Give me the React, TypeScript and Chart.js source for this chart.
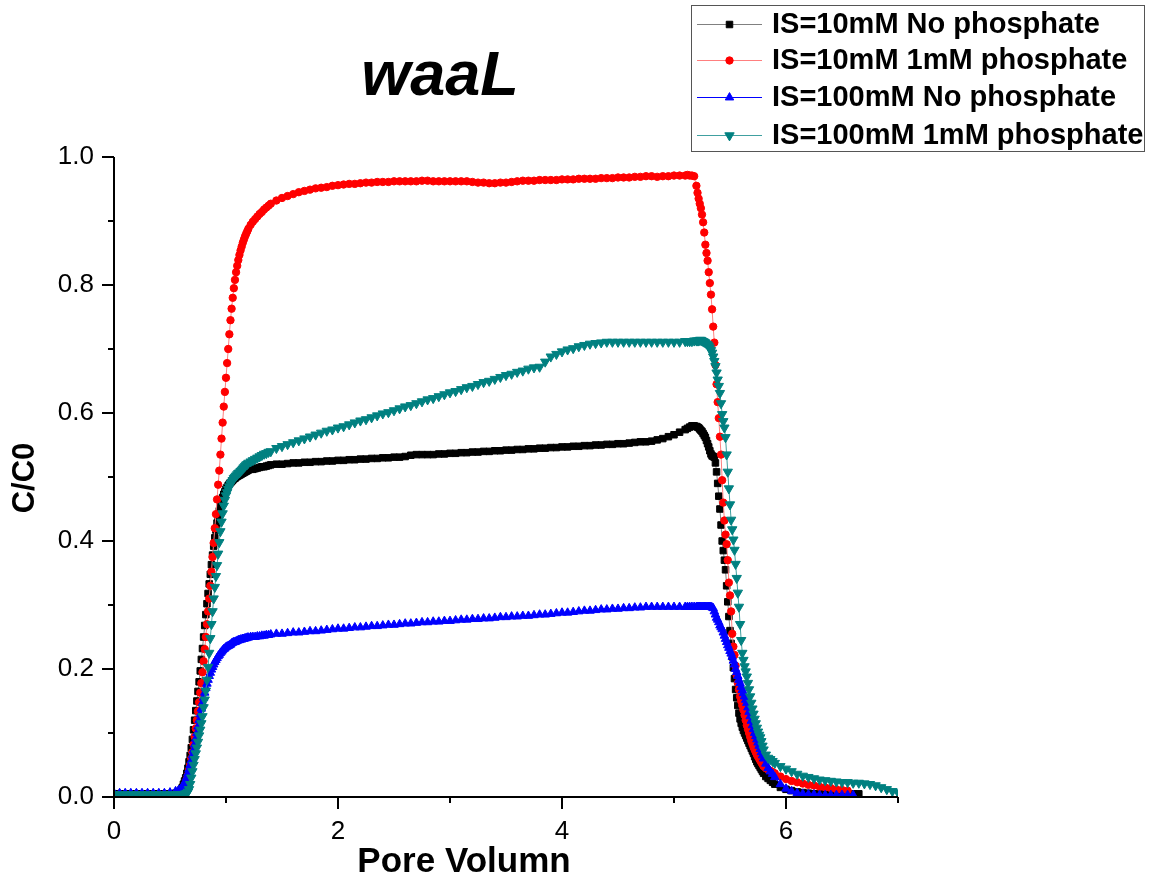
import React, { useEffect, useRef } from "react";
import { Chart, registerables } from "chart.js";

Chart.register(...registerables);

// ---------------- data ----------------
const poreVolume: number[] = [
  0, 0.05, 0.1, 0.15, 0.2, 0.25, 0.3, 0.35, 0.4, 0.45, 0.5, 0.55,
  0.58, 0.6, 0.61, 0.62, 0.63, 0.64, 0.65, 0.66, 0.67, 0.68, 0.69,
  0.7, 0.71, 0.72, 0.73, 0.74, 0.75, 0.76, 0.77, 0.78, 0.79,
  0.8, 0.81, 0.82, 0.83, 0.84, 0.85, 0.86, 0.87, 0.88, 0.89,
  0.9, 0.91, 0.92, 0.93, 0.94, 0.95, 0.96, 0.97, 0.98, 0.99,
  1, 1.01, 1.02, 1.03, 1.04, 1.05, 1.06, 1.07, 1.08, 1.09,
  1.1, 1.11, 1.12, 1.13, 1.14, 1.15, 1.16, 1.17, 1.18, 1.19, 1.2,
  1.22, 1.24, 1.26, 1.28, 1.3, 1.32, 1.34, 1.36, 1.38, 1.4,
  1.45, 1.5, 1.55, 1.6, 1.65, 1.7, 1.75, 1.8, 1.85, 1.9,
  1.95, 2, 2.05, 2.1, 2.15, 2.2, 2.25, 2.3, 2.35, 2.4,
  2.45, 2.5, 2.55, 2.6, 2.65, 2.7, 2.75, 2.8, 2.85, 2.9,
  2.95, 3, 3.05, 3.1, 3.15, 3.2, 3.25, 3.3, 3.35, 3.4,
  3.45, 3.5, 3.55, 3.6, 3.65, 3.7, 3.75, 3.8, 3.85, 3.9,
  3.95, 4, 4.05, 4.1, 4.15, 4.2, 4.25, 4.3, 4.35, 4.4,
  4.45, 4.5, 4.55, 4.6, 4.65, 4.7, 4.75, 4.8, 4.85, 4.9,
  4.95, 5, 5.05, 5.1,
  5.12, 5.14, 5.16, 5.18,
  5.2, 5.21, 5.22, 5.23, 5.24, 5.25, 5.26, 5.27, 5.28, 5.29,
  5.3, 5.31, 5.32, 5.33, 5.34, 5.35, 5.36, 5.37, 5.38, 5.39,
  5.4, 5.41, 5.42, 5.43, 5.44, 5.45, 5.46, 5.47, 5.48, 5.49,
  5.5, 5.51, 5.52, 5.53, 5.54, 5.55, 5.56, 5.57, 5.58, 5.59,
  5.6, 5.61, 5.62, 5.63, 5.64, 5.65, 5.66, 5.67, 5.68, 5.69,
  5.7, 5.71, 5.72, 5.73, 5.74, 5.75, 5.76, 5.77, 5.78, 5.79, 5.8,
  5.82, 5.84, 5.86, 5.88, 5.9,
  5.95, 6, 6.05, 6.1, 6.15, 6.2, 6.25, 6.3, 6.35, 6.4, 6.45, 6.5, 6.55,
  6.6, 6.65, 6.7, 6.75, 6.8, 6.85, 6.9, 6.95, 7,
];

// IS=10mM No phosphate
const is10mMNoPhosphate: (number | null)[] = [
  0.005, 0.005, 0.005, 0.005, 0.005, 0.005, 0.005, 0.005, 0.005, 0.005, 0.005, 0.006,
  0.008, 0.012, 0.015, 0.02, 0.025, 0.03, 0.037, 0.045, 0.055, 0.065, 0.077,
  0.09, 0.105, 0.12, 0.135, 0.15, 0.165, 0.18, 0.197, 0.215, 0.232,
  0.25, 0.268, 0.285, 0.302, 0.318, 0.333, 0.348, 0.363, 0.378, 0.392,
  0.405, 0.417, 0.428, 0.438, 0.447, 0.455, 0.462, 0.468, 0.473, 0.477,
  0.481, 0.484, 0.487, 0.489, 0.491, 0.493, 0.495, 0.497, 0.498, 0.5,
  0.501, 0.502, 0.503, 0.504, 0.505, 0.506, 0.507, 0.508, 0.509, 0.51, 0.511,
  0.512, 0.512, 0.513, 0.514, 0.515, 0.516, 0.516, 0.517, 0.518, 0.519,
  0.52, 0.52, 0.521, 0.522, 0.522, 0.523, 0.523, 0.524, 0.524, 0.525,
  0.525, 0.526, 0.526, 0.527, 0.527, 0.528, 0.528, 0.529, 0.529, 0.53,
  0.53, 0.531, 0.531, 0.532, 0.534, 0.535, 0.535, 0.535, 0.535, 0.536,
  0.536, 0.537, 0.537, 0.538, 0.538, 0.539, 0.539, 0.54, 0.54, 0.541,
  0.541, 0.542, 0.542, 0.543, 0.543, 0.544, 0.544, 0.545, 0.545, 0.546,
  0.546, 0.547, 0.547, 0.548, 0.548, 0.549, 0.549, 0.55, 0.55, 0.551,
  0.551, 0.552, 0.552, 0.553, 0.554, 0.555, 0.555, 0.556, 0.558, 0.56,
  0.563, 0.566, 0.57, 0.574,
  0.576, 0.578, 0.58, 0.58,
  0.579, 0.578, 0.577, 0.575, 0.573, 0.571, 0.568, 0.565, 0.562, 0.557,
  0.552, 0.547, 0.541, 0.536, 0.533, 0.532, 0.531, 0.522, 0.508, 0.49,
  0.47, 0.45, 0.425, 0.4, 0.385, 0.37, 0.355, 0.33, 0.305, 0.282,
  0.26, 0.24, 0.219, 0.202, 0.185, 0.168, 0.155, 0.143, 0.131, 0.122,
  0.115, 0.109, 0.104, 0.1, 0.096, 0.092, 0.088, 0.084, 0.08, 0.076,
  0.072, 0.068, 0.063, 0.059, 0.055, 0.052, 0.049, 0.046, 0.043, 0.04, 0.037,
  0.032, 0.029, 0.026, 0.023, 0.02,
  0.015, 0.012, 0.01, 0.008, 0.007, 0.006, 0.005, 0.005, 0.005, 0.005, 0.005, 0.005, 0.005,
  0.005, 0.005, null, null, null, null, null, null, null,
];

// IS=10mM 1mM phosphate
const is10mM1mMPhosphate: (number | null)[] = [
  0.004, 0.004, 0.004, 0.004, 0.004, 0.004, 0.004, 0.004, 0.004, 0.004, 0.004, 0.005,
  0.006, 0.009, 0.011, 0.014, 0.018, 0.022, 0.028, 0.034, 0.042, 0.05, 0.06,
  0.07, 0.082, 0.094, 0.107, 0.12, 0.134, 0.148, 0.163, 0.178, 0.195,
  0.212, 0.231, 0.25, 0.27, 0.29, 0.31, 0.33, 0.352, 0.375, 0.397,
  0.42, 0.442, 0.465, 0.488, 0.51, 0.535, 0.56, 0.585, 0.61, 0.633,
  0.655, 0.678, 0.7, 0.723, 0.745, 0.763, 0.78, 0.795, 0.808, 0.82,
  0.83, 0.839, 0.847, 0.854, 0.86, 0.866, 0.871, 0.876, 0.88, 0.884, 0.888,
  0.894, 0.899, 0.903, 0.907, 0.911, 0.914, 0.918, 0.921, 0.924, 0.927,
  0.932, 0.936, 0.939, 0.942, 0.945, 0.947, 0.949, 0.951, 0.952, 0.953,
  0.955, 0.956, 0.957, 0.958, 0.958, 0.959, 0.96, 0.96, 0.961, 0.961,
  0.961, 0.962, 0.962, 0.962, 0.962, 0.962, 0.963, 0.963, 0.962, 0.962,
  0.962, 0.962, 0.962, 0.962, 0.962, 0.961, 0.96, 0.96, 0.959, 0.959,
  0.96, 0.96, 0.961, 0.962, 0.963, 0.963, 0.963, 0.964, 0.964, 0.964,
  0.964, 0.965, 0.965, 0.965, 0.966, 0.966, 0.966, 0.966, 0.967, 0.967,
  0.967, 0.968, 0.968, 0.968, 0.969, 0.969, 0.97, 0.97, 0.969, 0.97,
  0.97, 0.971, 0.971, 0.971,
  0.972, 0.971, 0.971, 0.97,
  0.955, 0.944, 0.935, 0.927, 0.92, 0.91, 0.898, 0.882, 0.863, 0.85,
  0.838, 0.82, 0.803, 0.785, 0.762, 0.735, 0.71, 0.675, 0.645, 0.617,
  0.592, 0.563, 0.535, 0.495, 0.46, 0.432, 0.41, 0.395, 0.37, 0.335,
  0.315, 0.29, 0.255, 0.235, 0.222, 0.205, 0.19, 0.178, 0.168, 0.157,
  0.15, 0.143, 0.136, 0.128, 0.12, 0.112, 0.106, 0.1, 0.094, 0.088,
  0.083, 0.078, 0.074, 0.07, 0.066, 0.063, 0.06, 0.057, 0.054, 0.051, 0.048,
  0.045, 0.043, 0.041, 0.039, 0.037,
  0.032, 0.028, 0.025, 0.023, 0.021, 0.019, 0.018, 0.016, 0.015, 0.014, 0.012, 0.011, 0.01,
  null, null, null, null, null, null, null, null, null,
];

// IS=100mM No phosphate
const is100mMNoPhosphate: (number | null)[] = [
  0.006, 0.006, 0.006, 0.006, 0.006, 0.006, 0.006, 0.006, 0.006, 0.006, 0.007, 0.009,
  0.011, 0.013, 0.015, 0.018, 0.022, 0.026, 0.031, 0.037, 0.043, 0.05, 0.057,
  0.065, 0.073, 0.082, 0.091, 0.1, 0.11, 0.12, 0.129, 0.138, 0.147,
  0.155, 0.163, 0.17, 0.177, 0.183, 0.189, 0.194, 0.199, 0.203, 0.207,
  0.211, 0.214, 0.217, 0.22, 0.222, 0.225, 0.227, 0.229, 0.231, 0.232,
  0.234, 0.235, 0.236, 0.237, 0.238, 0.24, 0.241, 0.242, 0.242, 0.243,
  0.244, 0.245, 0.245, 0.246, 0.246, 0.247, 0.247, 0.248, 0.248, 0.249, 0.249,
  0.25, 0.25, 0.25, 0.251, 0.251, 0.252, 0.252, 0.253, 0.253, 0.254,
  0.255, 0.255, 0.256, 0.257, 0.257, 0.258, 0.259, 0.259, 0.26, 0.261,
  0.262, 0.263, 0.263, 0.264, 0.265, 0.265, 0.266, 0.267, 0.267, 0.268,
  0.269, 0.269, 0.27, 0.271, 0.271, 0.272, 0.273, 0.273, 0.274, 0.274,
  0.275, 0.275, 0.276, 0.277, 0.277, 0.278, 0.278, 0.279, 0.279, 0.28,
  0.281, 0.281, 0.282, 0.282, 0.283, 0.283, 0.284, 0.285, 0.285, 0.286,
  0.287, 0.288, 0.288, 0.289, 0.29, 0.291, 0.291, 0.292, 0.293, 0.293,
  0.294, 0.294, 0.295, 0.295, 0.296, 0.296, 0.297, 0.297, 0.297, 0.297,
  0.297, 0.297, 0.297, 0.297,
  0.297, 0.297, 0.297, 0.297,
  0.297, 0.297, 0.297, 0.297, 0.297, 0.297, 0.297, 0.297, 0.297, 0.297,
  0.297, 0.297, 0.297, 0.297, 0.296, 0.295, 0.29, 0.285, 0.28, 0.277,
  0.273, 0.268, 0.265, 0.262, 0.257, 0.252, 0.247, 0.242, 0.237, 0.233,
  0.228, 0.224, 0.219, 0.213, 0.207, 0.2, 0.195, 0.189, 0.183, 0.178,
  0.172, 0.167, 0.162, 0.157, 0.152, 0.147, 0.14, 0.133, 0.126, 0.119,
  0.112, 0.106, 0.1, 0.095, 0.09, 0.085, 0.08, 0.075, 0.07, 0.065, 0.06,
  0.052, 0.045, 0.04, 0.036, 0.031,
  0.02, 0.013, 0.009, 0.006, 0.005, 0.004, 0.004, 0.003, 0.003, 0.003, 0.003, 0.003, 0.003,
  0.003, null, null, null, null, null, null, null, null,
];

// IS=100mM 1mM phosphate
const is100mM1mMPhosphate: (number | null)[] = [
  0.004, 0.004, 0.004, 0.004, 0.004, 0.004, 0.004, 0.004, 0.004, 0.004, 0.004, 0.004,
  0.004, 0.004, 0.004, 0.004, 0.005, 0.005, 0.006, 0.008, 0.012, 0.02, 0.03,
  0.04, 0.05, 0.059, 0.068, 0.077, 0.086, 0.096, 0.105, 0.115, 0.126,
  0.14, 0.152, 0.166, 0.183, 0.203, 0.225, 0.248, 0.27, 0.29, 0.31,
  0.328, 0.345, 0.362, 0.38, 0.398, 0.415, 0.43, 0.443, 0.455, 0.464,
  0.471, 0.476, 0.481, 0.485, 0.489, 0.492, 0.495, 0.498, 0.5, 0.502,
  0.504, 0.506, 0.507, 0.509, 0.511, 0.513, 0.515, 0.517, 0.519, 0.52, 0.522,
  0.524, 0.526, 0.528, 0.53, 0.532, 0.534, 0.536, 0.537, 0.539, 0.54,
  0.545, 0.548, 0.551, 0.554, 0.557, 0.56, 0.563, 0.566, 0.569, 0.572,
  0.574, 0.577, 0.579, 0.582, 0.585, 0.588, 0.59, 0.593, 0.596, 0.599,
  0.601, 0.604, 0.607, 0.61, 0.612, 0.615, 0.618, 0.621, 0.623, 0.626,
  0.629, 0.632, 0.634, 0.637, 0.64, 0.642, 0.645, 0.648, 0.65, 0.653,
  0.656, 0.659, 0.661, 0.664, 0.666, 0.669, 0.671, 0.672, 0.68, 0.688,
  0.692, 0.696, 0.699, 0.701, 0.704, 0.706, 0.708, 0.709, 0.71, 0.711,
  0.711, 0.711, 0.711, 0.711, 0.711, 0.711, 0.711, 0.711, 0.711, 0.711,
  0.711, 0.711, 0.711, 0.712,
  0.712, 0.712, 0.712, 0.713,
  0.713, 0.713, 0.713, 0.714, 0.714, 0.713, 0.712, 0.711, 0.71, 0.708,
  0.707, 0.705, 0.702, 0.698, 0.694, 0.688, 0.681, 0.673, 0.663, 0.652,
  0.642, 0.631, 0.615, 0.598, 0.587, 0.577, 0.562, 0.535, 0.508, 0.482,
  0.457, 0.433, 0.418, 0.402, 0.386, 0.364, 0.342, 0.319, 0.297, 0.27,
  0.245, 0.225, 0.214, 0.204, 0.196, 0.188, 0.178, 0.168, 0.157, 0.147,
  0.138, 0.13, 0.122, 0.115, 0.108, 0.102, 0.097, 0.093, 0.087, 0.08, 0.074,
  0.066, 0.061, 0.059, 0.056, 0.053,
  0.048, 0.044, 0.04, 0.036, 0.033, 0.031, 0.029, 0.027, 0.026, 0.025, 0.024, 0.023, 0.023,
  0.022, 0.022, 0.021, 0.02, 0.018, 0.015, 0.012, 0.009, 0.007,
];

const seriesLabels = [
  "IS=10mM No phosphate",
  "IS=10mM 1mM phosphate",
  "IS=100mM No phosphate",
  "IS=100mM 1mM phosphate",
];

const xMajorTicks = [0, 2, 4, 6];
const xMinorTicks = [1, 3, 5, 7];
const yMajorTicks = [0, 0.2, 0.4, 0.6, 0.8, 1.0];
const yMinorTicks = [0.1, 0.3, 0.5, 0.7, 0.9];

const chartTitle = "waaL";
const xAxisTitle = "Pore Volumn";
const yAxisTitle = "C/C0";

// ---------------- styles ----------------
const FONT = '"Liberation Sans", Arial, Helvetica, sans-serif';

type SeriesStyle = {
  marker: string;
  line: string;
  pointStyle: string;
  radius: number;
  rotation: number;
};

const seriesStyles: SeriesStyle[] = [
  { marker: "#000000", line: "#808080", pointStyle: "rect", radius: 4.6, rotation: 0 },
  { marker: "#ff0000", line: "#ff7f7f", pointStyle: "circle", radius: 3.7, rotation: 0 },
  { marker: "#0000ff", line: "#0000ff", pointStyle: "triangle", radius: 4.9, rotation: 0 },
  { marker: "#008080", line: "#40a0a0", pointStyle: "triangle", radius: 5.4, rotation: 180 },
];

const seriesValues = [is10mMNoPhosphate, is10mM1mMPhosphate, is100mMNoPhosphate, is100mM1mMPhosphate];

function toPoints(ys: (number | null)[]) {
  const pts: { x: number; y: number }[] = [];
  poreVolume.forEach((x, i) => {
    const y = ys[i];
    if (y !== null && y !== undefined) pts.push({ x, y });
  });
  return pts;
}

function drawMarker(ctx: CanvasRenderingContext2D, st: SeriesStyle, x: number, y: number) {
  ctx.save();
  ctx.fillStyle = st.marker;
  ctx.strokeStyle = st.marker;
  ctx.lineWidth = 1;
  ctx.beginPath();
  const r = st.radius;
  if (st.pointStyle === "rect") {
    const s = r * Math.SQRT1_2;
    ctx.rect(x - s, y - s, 2 * s, 2 * s);
  } else if (st.pointStyle === "circle") {
    ctx.arc(x, y, r, 0, Math.PI * 2);
  } else {
    let rad = (st.rotation * Math.PI) / 180;
    ctx.moveTo(x + Math.sin(rad) * r, y - Math.cos(rad) * r);
    rad += (2 * Math.PI) / 3;
    ctx.lineTo(x + Math.sin(rad) * r, y - Math.cos(rad) * r);
    rad += (2 * Math.PI) / 3;
    ctx.lineTo(x + Math.sin(rad) * r, y - Math.cos(rad) * r);
    ctx.closePath();
  }
  ctx.fill();
  ctx.stroke();
  ctx.restore();
}

const decorPlugin = {
  id: "decor",
  afterDatasetsDraw(chart: any) {
    const ctx: CanvasRenderingContext2D = chart.ctx;
    const { left, right, top, bottom } = chart.chartArea;
    const xs = chart.scales.x;
    const ys = chart.scales.y;
    ctx.save();
    // axes
    ctx.strokeStyle = "#000";
    ctx.lineWidth = 2;
    ctx.beginPath();
    ctx.moveTo(left, top);
    ctx.lineTo(left, bottom + 1);
    ctx.moveTo(left - 1, bottom);
    ctx.lineTo(right, bottom);
    xMajorTicks.forEach((v) => {
      const p = xs.getPixelForValue(v);
      ctx.moveTo(p, bottom);
      ctx.lineTo(p, bottom + 12);
    });
    xMinorTicks.forEach((v) => {
      const p = xs.getPixelForValue(v);
      ctx.moveTo(p, bottom);
      ctx.lineTo(p, bottom + 6);
    });
    yMajorTicks.forEach((v) => {
      const p = ys.getPixelForValue(v);
      ctx.moveTo(left, p);
      ctx.lineTo(left - 12, p);
    });
    yMinorTicks.forEach((v) => {
      const p = ys.getPixelForValue(v);
      ctx.moveTo(left, p);
      ctx.lineTo(left - 6, p);
    });
    ctx.stroke();

    // title
    ctx.fillStyle = "#000";
    ctx.font = `italic bold 63px ${FONT}`;
    ctx.textAlign = "center";
    ctx.textBaseline = "alphabetic";
    ctx.fillText(chartTitle, 440, 95);

    // axis titles
    ctx.font = `bold 35px ${FONT}`;
    ctx.textBaseline = "middle";
    ctx.fillText(xAxisTitle, 464, 862);
    ctx.save();
    ctx.translate(25, 478);
    ctx.rotate(-Math.PI / 2);
    ctx.font = `bold 31px ${FONT}`;
    ctx.fillText(yAxisTitle, 0, 0);
    ctx.restore();

    // legend
    ctx.strokeStyle = "#555";
    ctx.lineWidth = 1;
    ctx.strokeRect(691.5, 5.5, 453, 146);
    const rows = [24, 60, 97, 135];
    ctx.font = `bold 29px ${FONT}`;
    ctx.textAlign = "left";
    ctx.textBaseline = "middle";
    seriesLabels.forEach((label, i) => {
      const y = rows[i];
      const st = seriesStyles[i];
      ctx.strokeStyle = st.line;
      ctx.lineWidth = 1;
      ctx.beginPath();
      ctx.moveTo(697, y + 0.5);
      ctx.lineTo(762, y + 0.5);
      ctx.stroke();
      drawMarker(ctx, st, 729.5, y + 0.5);
      ctx.fillStyle = "#000";
      ctx.fillText(label, 772, y + 1);
    });
    ctx.restore();
  },
};

export default function App() {
  const canvasRef = useRef<HTMLCanvasElement | null>(null);

  useEffect(() => {
    document.body.style.margin = "0";
    document.body.style.overflow = "hidden";
    seriesValues.forEach((s, i) => {
      if (s.length !== poreVolume.length) {
        throw new Error(`series ${i} length ${s.length} != ${poreVolume.length}`);
      }
    });
    const canvas = canvasRef.current;
    if (!canvas) return;
    Chart.defaults.font.family = FONT;

    const datasets = seriesValues.map((vals, i) => {
      const st = seriesStyles[i];
      return {
        label: seriesLabels[i],
        data: toPoints(vals),
        showLine: true,
        borderColor: st.line,
        borderWidth: 1,
        backgroundColor: st.marker,
        pointStyle: st.pointStyle,
        pointRadius: st.radius,
        pointRotation: st.rotation,
        pointBackgroundColor: st.marker,
        pointBorderColor: st.marker,
        pointBorderWidth: 1,
        pointHoverRadius: st.radius,
        order: seriesValues.length - i,
        tension: 0,
      };
    });

    const chart = new Chart(canvas, {
      type: "scatter",
      data: { datasets } as any,
      options: {
        animation: false,
        responsive: false,
        maintainAspectRatio: false,
        devicePixelRatio: 1,
        layout: { padding: { left: 0, top: 157, right: 252, bottom: 0 } },
        plugins: {
          legend: { display: false },
          tooltip: { enabled: false },
          title: { display: false },
        },
        events: [],
        scales: {
          x: {
            type: "linear",
            min: 0,
            max: 7,
            grid: { display: false, drawTicks: false },
            border: { display: false },
            afterBuildTicks: (scale: any) => {
              scale.ticks = xMajorTicks.map((v) => ({ value: v }));
            },
            afterFit: (scale: any) => {
              scale.height = 84;
            },
            ticks: {
              color: "#000",
              font: { size: 26, family: FONT },
              padding: 19,
              maxRotation: 0,
              autoSkip: false,
              callback: (v: any) => String(v),
            },
          },
          y: {
            type: "linear",
            min: 0,
            max: 1,
            grid: { display: false, drawTicks: false },
            border: { display: false },
            afterBuildTicks: (scale: any) => {
              scale.ticks = yMajorTicks.map((v) => ({ value: v }));
            },
            afterFit: (scale: any) => {
              scale.width = 114;
            },
            ticks: {
              color: "#000",
              font: { size: 26, family: FONT },
              padding: 20,
              autoSkip: false,
              callback: (v: any) => Number(v).toFixed(1),
            },
          },
        },
      } as any,
      plugins: [decorPlugin],
    });
    return () => chart.destroy();
  }, []);

  return (
    <div style={{ width: 1150, height: 881, position: "relative", background: "#fff" }}>
      <canvas ref={canvasRef} width={1150} height={881} style={{ display: "block", width: 1150, height: 881 }} />
    </div>
  );
}
